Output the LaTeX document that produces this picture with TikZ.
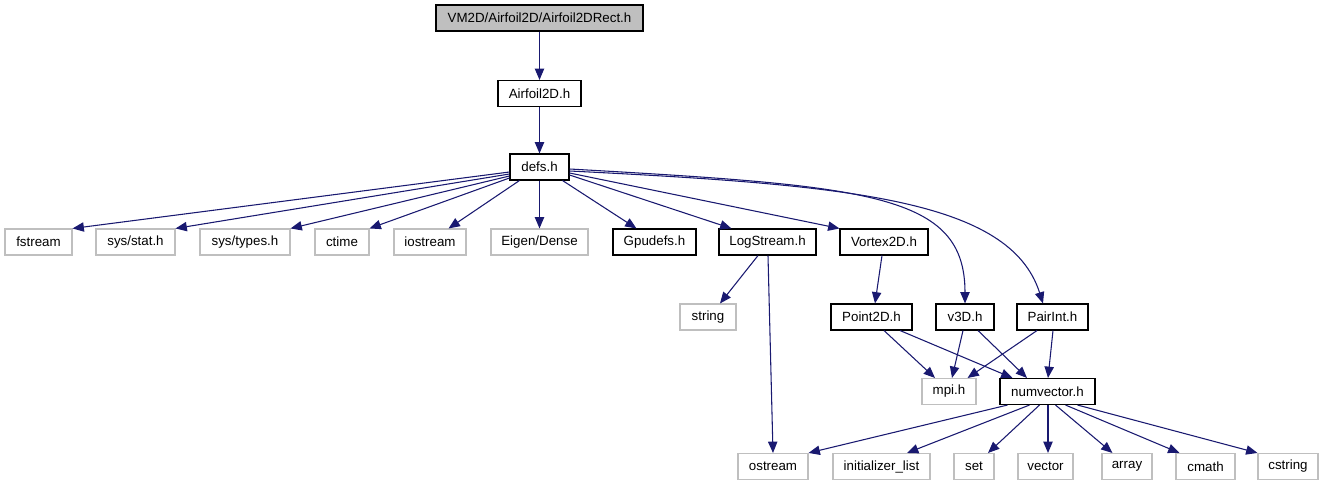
\documentclass[tikz,border=0pt]{standalone}
\usepackage{fontspec}
\setmainfont{Liberation Sans}
\usetikzlibrary{arrows.meta,calc}
\definecolor{edgec}{HTML}{191970}
\definecolor{grayb}{HTML}{BFBFBF}
\begin{document}
\begin{tikzpicture}[x=0.75pt,y=-0.75pt,
  box/.style={draw=black, line width=0.8pt, rectangle, inner sep=0pt, minimum height=19.5pt, font=\fontsize{10}{12}\selectfont, fill=white},
  gbox/.style={box, draw=grayb},
  pxw/.style={minimum width=#1*0.75pt},
  dep/.style={draw=edgec, line width=0.8pt, -{Triangle[length=8.5pt,width=7pt]}},
]
\useasboundingbox (0,0) rectangle (1325,485);
% nodes
\node[box, fill=grayb, pxw=207] (top) at (539.5,18) {VM2D/Airfoil2D/Airfoil2DRect.h};
\node[box, pxw=83] (airfoil) at (539.5,93.5) {Airfoil2D.h};
\node[box, pxw=59] (defs) at (539.5,167) {defs.h};
\node[gbox, pxw=67] (fstream) at (38.5,242) {fstream};
\node[gbox, pxw=79] (sysstat) at (135.5,242) {sys/stat.h};
\node[gbox, pxw=90] (systypes) at (245,242) {sys/types.h};
\node[gbox, pxw=54] (ctime) at (342,242) {ctime};
\node[gbox, pxw=72] (iostream) at (430,242) {iostream};
\node[gbox, pxw=97] (eigen) at (539.5,242) {Eigen/Dense};
\node[box, pxw=83] (gpudefs) at (654.5,242) {Gpudefs.h};
\node[box, pxw=97] (logstream) at (767.5,242) {LogStream.h};
\node[box, pxw=88] (vortex) at (884,242) {Vortex2D.h};
\node[gbox, pxw=56] (string) at (708,317) {string};
\node[box, pxw=81] (point2d) at (871.5,317) {Point2D.h};
\node[box, pxw=58] (v3d) at (965,317) {v3D.h};
\node[box, pxw=71] (pairint) at (1052.5,317) {PairInt.h};
\node[gbox, pxw=54] (mpi) at (949,391.5) {mpi.h};
\node[box, pxw=95] (numvector) at (1047.5,391.5) {numvector.h};
\node[gbox, pxw=70] (ostream) at (773,466.5) {ostream};
\node[gbox, pxw=97] (initlist) at (881.5,466.5) {initializer\_list};
\node[gbox, pxw=40] (set) at (974,466.5) {set};
\node[gbox, pxw=55] (vector) at (1045.5,466.5) {vector};
\node[gbox, pxw=50] (array) at (1127,466.5) {array};
\node[gbox, pxw=59] (cmath) at (1205.5,466.5) {cmath};
\node[gbox, pxw=60] (cstring) at (1288,466.5) {cstring};
% edges
\draw[dep] (top) -- (airfoil);
\draw[dep] (airfoil) -- (defs);
\draw[dep] ($(defs.west)+(0,5)$) -- (fstream.north east);
\draw[dep] ($(defs.west)+(0,7)$) -- (sysstat.north east);
\draw[dep] ($(defs.west)+(0,9)$) -- (systypes.north east);
\draw[dep] ($(defs.west)+(0,11)$) -- (ctime.north east);
\draw[dep] ($(defs.south west)+(10,0)$) -- ($(iostream.north east)+(-18,0)$);
\draw[dep] (defs.south) -- (eigen.north);
\draw[dep] ($(defs.south east)+(-7,0)$) -- ($(gpudefs.north west)+(24,0)$);
\draw[dep] ($(defs.east)+(0,8)$) -- ($(logstream.north west)+(13,0)$);
\draw[dep] ($(defs.east)+(0,6)$) -- (vortex.north west);
\draw[dep] ($(defs.east)+(0,2)$) .. controls ($(defs.east)+(300,19)$) and ($(v3d.north)+(0,-110)$) .. (v3d.north);
\draw[dep] ($(defs.east)+(0,4)$) .. controls ($(defs.east)+(281,18)$) and ($(pairint.north)+(-42.5,-104)$) .. ($(pairint.north)+(-9.5,0)$);
\draw[dep] ($(logstream.south)+(-9.5,0)$) -- ($(string.north)+(12,0)$);
\draw[dep] ($(logstream.south)+(0.5,0)$) -- (ostream.north);
\draw[dep] ($(vortex.south)+(-2,0)$) -- ($(point2d.north)+(3.5,0)$);
\draw[dep] ($(point2d.south)+(12.5,0)$) -- ($(mpi.north)+(-14,0)$);
\draw[dep] ($(point2d.south)+(28.5,0)$) -- ($(numvector.north west)+(13,0)$);
\draw[dep] ($(v3d.south)+(-2,0)$) -- ($(mpi.north)+(3,0)$);
\draw[dep] ($(v3d.south)+(13,0)$) -- ($(numvector.north)+(-20.5,0)$);
\draw[dep] ($(pairint.south)+(-15.5,0)$) -- ($(mpi.north east)+(-9,0)$);
\draw[dep] ($(pairint.south)+(0.5,0)$) -- ($(numvector.north)+(0.5,0)$);
\draw[dep] ($(numvector.south)+(-40,0)$) -- (ostream.north east);
\draw[dep] ($(numvector.south)+(-18,0)$) -- ($(initlist.north)+(25.5,0)$);
\draw[dep] ($(numvector.south)+(-8,0)$) -- ($(set.north)+(14,0)$);
\draw[dep] ($(numvector.south)+(0.5,0)$) -- ($(vector.north)+(2.5,0)$);
\draw[dep] ($(numvector.south)+(8,0)$) -- ($(array.north west)+(11,0)$);
\draw[dep] ($(numvector.south)+(18,0)$) -- ($(cmath.north west)+(4,0)$);
\draw[dep] ($(numvector.south)+(30,0)$) -- (cstring.north west);
\end{tikzpicture}
\end{document}
